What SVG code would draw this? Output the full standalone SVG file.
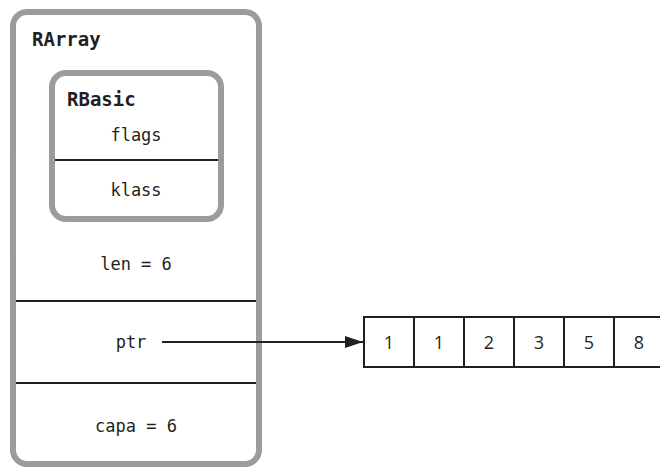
<svg xmlns="http://www.w3.org/2000/svg" width="660" height="470" viewBox="0 0 660 470">
<style>
.box{fill:#fff;stroke:#9c9ca0;stroke-width:6}
.div{stroke:#231f20;stroke-width:2.2}
.t{font-family:"DejaVu Sans Mono","Liberation Mono",monospace;font-size:17px;fill:#231f20}
.b{font-family:"DejaVu Sans Mono","Liberation Mono",monospace;font-size:19px;font-weight:bold;fill:#231f20}
.cell{fill:#fff;stroke:#231f20;stroke-width:2}
.n{font-family:"Open Sans","Liberation Sans",sans-serif;font-size:18px;fill:#231f20;text-anchor:middle}
</style>
<defs>
<marker id="ah" viewBox="0 0 18 12" refX="18" refY="6" markerWidth="18" markerHeight="12" markerUnits="userSpaceOnUse" orient="auto">
<path d="M0,0 L18,6 L0,12 z" fill="#231f20"/>
</marker>
</defs>
<g id="RArray">
<rect class="box" x="13" y="12" width="246" height="452" rx="14"/>
<text class="b" x="32" y="46">RArray</text>
<line class="div" x1="16" y1="301" x2="256" y2="301"/>
<line class="div" x1="16" y1="383" x2="256" y2="383"/>
<text class="t" x="136" y="270" text-anchor="middle">len = 6</text>
<text class="t" x="131" y="348" text-anchor="middle">ptr</text>
<text class="t" x="136" y="432" text-anchor="middle">capa = 6</text>
</g>
<g id="RBasic">
<rect class="box" x="52" y="73" width="169" height="146" rx="14"/>
<text class="b" x="67" y="106">RBasic</text>
<line class="div" x1="55" y1="160" x2="218" y2="160"/>
<text class="t" x="136" y="141" text-anchor="middle">flags</text>
<text class="t" x="136" y="196" text-anchor="middle">klass</text>
</g>
<g id="array">
<rect class="cell" x="364" y="317" width="50" height="50"/>
<rect class="cell" x="414" y="317" width="50" height="50"/>
<rect class="cell" x="464" y="317" width="50" height="50"/>
<rect class="cell" x="514" y="317" width="50" height="50"/>
<rect class="cell" x="564" y="317" width="50" height="50"/>
<rect class="cell" x="614" y="317" width="50" height="50"/>
<text class="n" x="389" y="349">1</text>
<text class="n" x="439" y="349">1</text>
<text class="n" x="489" y="349">2</text>
<text class="n" x="539" y="349">3</text>
<text class="n" x="589" y="349">5</text>
<text class="n" x="639" y="349">8</text>
</g>
<g id="connectors">
<line x1="162" y1="342" x2="363" y2="342" stroke="#231f20" stroke-width="2.2" marker-end="url(#ah)"/>
</g>
</svg>
